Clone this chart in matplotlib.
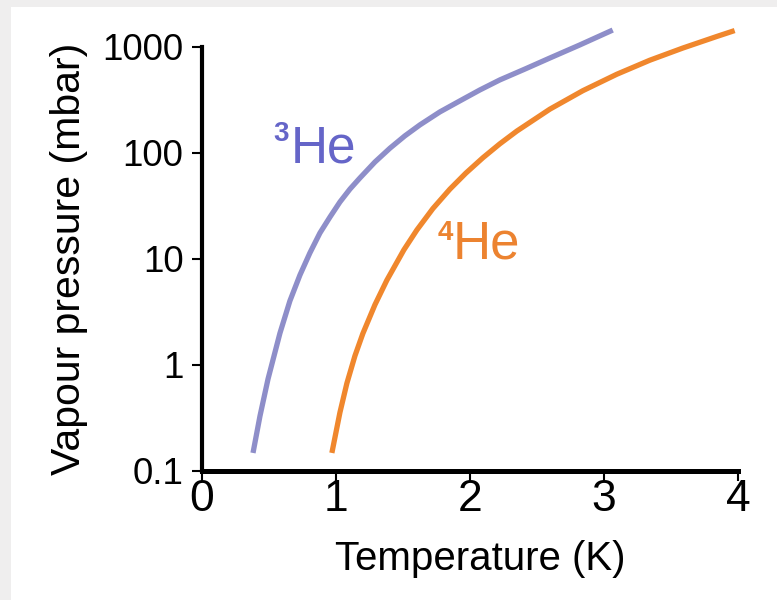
import matplotlib
matplotlib.use('Agg')
import matplotlib.pyplot as plt
from matplotlib.patches import Rectangle

plt.rcParams['font.family'] = ['Liberation Sans', 'DejaVu Sans']

# saturated vapour pressure (mbar) against temperature (K)
t_he3 = [0.384, 0.436, 0.496, 0.585, 0.659, 0.734, 0.808, 0.883, 0.958, 1.032, 1.107, 1.181,
         1.293, 1.405, 1.516, 1.628, 1.777, 1.926, 2.075, 2.224, 2.411, 2.597, 2.820, 3.066]
p_he3 = [0.148, 0.330, 0.738, 2.00, 4.02, 7.06, 11.4, 17.6, 24.9, 34.5, 45.7, 58.1,
         82.2, 111, 145, 184, 244, 310, 393, 489, 619, 787, 1045, 1445]

t_he4 = [0.972, 1.032, 1.084, 1.144, 1.203, 1.293, 1.382, 1.509, 1.606, 1.725, 1.852, 1.971,
         2.098, 2.224, 2.351, 2.597, 2.843, 3.096, 3.342, 3.588, 3.841, 3.975]
p_he4 = [0.148, 0.356, 0.673, 1.22, 1.98, 3.70, 6.31, 12.2, 18.8, 29.9, 45.6, 64.6,
         90.2, 122, 161, 259, 387, 553, 750, 977, 1256, 1429]

x_ticks = [0, 1, 2, 3, 4]
y_ticks = [0.1, 1, 10, 100, 1000]
y_ticklabels = ['0.1', '1', '10', '100', '1000']

he3_line = '#8e8ec9'
he4_line = '#f0872d'
he3_text = '#6565c8'
he4_text = '#ec8330'

fig = plt.figure(figsize=(7.77, 6.0), dpi=100, facecolor='#efeeee')
# white panel behind the plot, leaving a thin grey border top and left
fig.patches.append(Rectangle((11 / 777, 0), 1, 1 - 7 / 600, transform=fig.transFigure,
                             facecolor='white', edgecolor='none', zorder=-10))

ax = fig.add_axes([201.5 / 777, 1 - 471 / 600, 536.5 / 777, 424 / 600])
ax.set_facecolor('none')

ax.plot(t_he3, p_he3, color=he3_line, lw=3.8, solid_capstyle='butt',
        solid_joinstyle='round', clip_on=False)
ax.plot(t_he4, p_he4, color=he4_line, lw=3.8, solid_capstyle='butt',
        solid_joinstyle='round', clip_on=False)

ax.set_yscale('log')
ax.set_xlim(0, 4)
ax.set_ylim(0.1, 1000)
ax.set_xticks(x_ticks)
ax.set_xticklabels([str(v) for v in x_ticks])
ax.set_yticks(y_ticks)
ax.set_yticklabels(y_ticklabels)
ax.minorticks_off()

for side in ['top', 'right']:
    ax.spines[side].set_visible(False)
ax.spines['left'].set_linewidth(3.0)
ax.spines['bottom'].set_linewidth(3.6)
ax.tick_params(axis='both', width=1.5, length=7, color='black')
ax.tick_params(axis='y', labelsize=26.5, pad=6)
ax.tick_params(axis='x', labelsize=32, pad=-1)

ax.set_xlabel('Temperature (K)', fontsize=29)
ax.set_ylabel('Vapour pressure (mbar)', fontsize=29.5)
ax.xaxis.set_label_coords(0.52, -0.162)
ax.yaxis.set_label_coords(-0.212, 0.5)

# isotope labels: "He" plus a raised mass number
ax.text(0.667, 80.5, 'He', color=he3_text, fontsize=37, ha='left', va='baseline')
ax.annotate('3', xy=(0.667, 80.5), xytext=(-13, 16), textcoords='offset points',
            color=he3_text, fontsize=20, fontweight='bold', ha='left', va='baseline')
ax.text(1.874, 10.2, 'He', color=he4_text, fontsize=38, ha='left', va='baseline')
ax.annotate('4', xy=(1.874, 10.2), xytext=(-11, 13), textcoords='offset points',
            color=he4_text, fontsize=20, fontweight='bold', ha='left', va='baseline')

fig.savefig('out.png', dpi=100, facecolor=fig.get_facecolor())
